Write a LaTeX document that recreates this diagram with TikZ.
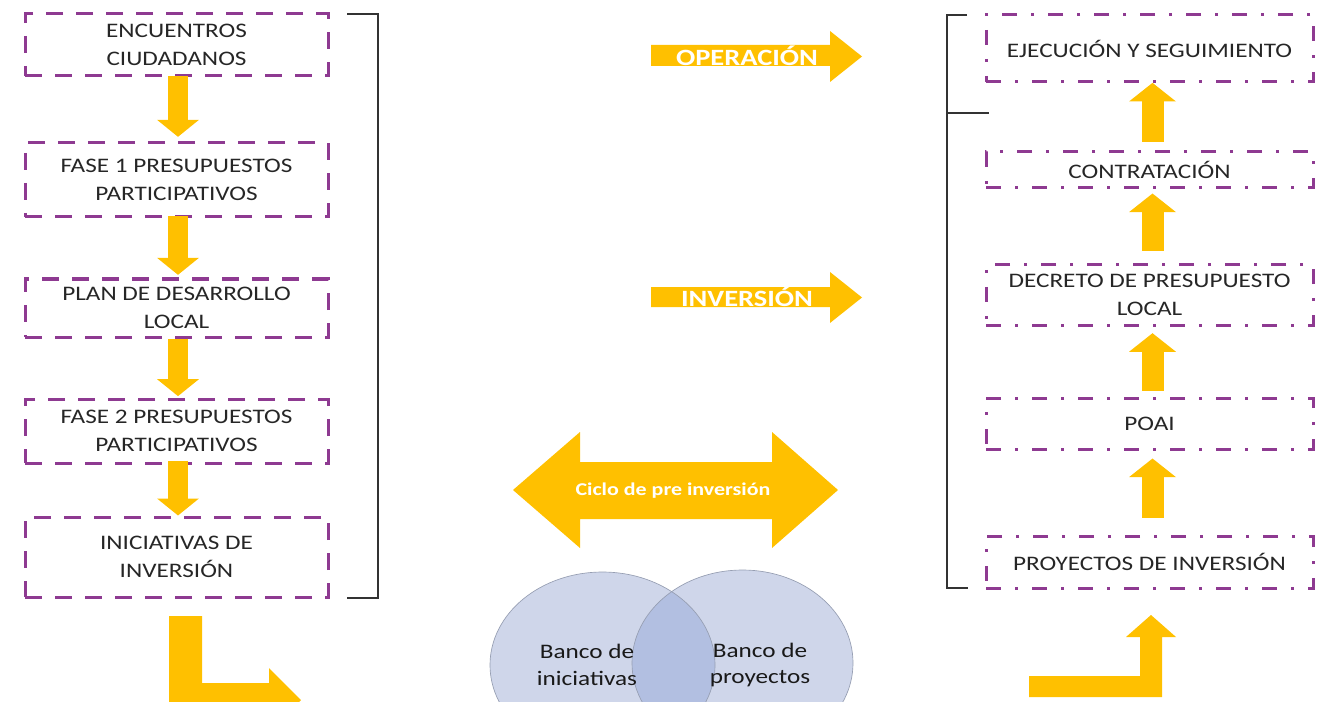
\documentclass[tikz,border=0pt]{standalone}
\usepackage{fontspec}
\setmainfont{Carlito}[FakeStretch=1.22]
\usetikzlibrary{arrows.meta,calc}
\definecolor{pur}{RGB}{142,58,145}
\definecolor{yel}{RGB}{255,192,0}
\definecolor{txt}{RGB}{38,38,38}
\definecolor{venn}{RGB}{207,214,234}
\definecolor{venndark}{RGB}{178,191,225}
\definecolor{vennline}{RGB}{150,158,178}
\begin{document}
\begin{tikzpicture}[x=0.75pt,y=-0.75pt,
  lbox/.style={draw=pur, line width=2.25pt, dash pattern=on 12.75pt off 9.75pt,
    minimum width=227.25pt, inner sep=0pt, align=center, text=txt,
    font=\fontsize{15.5}{20.5}\selectfont},
  rbox/.style={lbox, dash pattern=on 11.25pt off 10.5pt on 2.25pt off 10.5pt,
    minimum width=245.25pt},
  downarr/.style={draw=yel, line width=15pt, -{Triangle[width=30.75pt,length=12.75pt]}},
  uparr/.style={draw=yel, line width=16.5pt, -{Triangle[width=34.5pt,length=14pt]}},
  lab/.style={text=white, font=\bfseries\fontsize{17.5}{20}\selectfont, inner sep=0pt},
  vtext/.style={text=black!90, align=center, inner sep=0pt, font=\fontsize{15.5}{20}\selectfont},
  brk/.style={draw=black!80, line width=1.1pt}
]
\useasboundingbox (0,0) rectangle (1320,702);
\clip (0,0) rectangle (1320,702);

% left boxes
\node[lbox, minimum height=46.5pt] (L1) at (176.5,45) {ENCUENTROS\\CIUDADANOS};
\node[lbox, minimum height=55.5pt] (L2) at (176.5,180) {FASE 1 PRESUPUESTOS\\PARTICIPATIVOS};
\node[lbox, minimum height=43.5pt] (L3) at (176.5,308) {PLAN DE DESARROLLO\\LOCAL};
\node[lbox, minimum height=48pt] (L4) at (176.5,431) {FASE 2 PRESUPUESTOS\\PARTICIPATIVOS};
\node[lbox, minimum height=60pt] (L5) at (176.5,557) {INICIATIVAS DE\\INVERSIÓN};

\draw[downarr, shorten <=-1pt, shorten >=3.5pt] ($(L1.south)+(1.5,0)$) -- ($(L2.north)+(1.5,0)$);
\draw[downarr, shorten <=-2pt, shorten >=2pt] ($(L2.south)+(1.5,0)$) -- ($(L3.north)+(1.5,0)$);
\draw[downarr, shorten <=0pt, shorten >=1pt] ($(L3.south)+(1.5,0)$) -- ($(L4.north)+(1.5,0)$);
\draw[downarr, shorten <=-3pt, shorten >=0pt] ($(L4.south)+(1.5,0)$) -- ($(L5.north)+(1.5,0)$);

% left bracket
\draw[brk] (347,14) -- (378,14) -- (378,598) -- (347,598);

% right boxes
\node[rbox, minimum height=50.25pt] (R1) at (1149.5,48.5) {EJECUCIÓN Y SEGUIMIENTO};
\node[rbox, minimum height=27pt] (R2) at (1149.5,170) {CONTRATACIÓN};
\node[rbox, minimum height=45pt] (R3) at (1149.5,295) {DECRETO DE PRESUPUESTO\\LOCAL};
\node[rbox, minimum height=38.25pt] (R4) at (1149.5,423.5) {POAI};
\node[rbox, minimum height=39pt] (R5) at (1149.5,562) {PROYECTOS DE INVERSIÓN};

\draw[uparr, shorten <=6.5pt, shorten >=-0.5pt] ($(R2.north)+(3,0)$) -- ($(R1.south)+(3,0)$);
\draw[uparr, shorten <=9.5pt, shorten >=3pt] ($(R3.north)+(3,0)$) -- ($(R2.south)+(3,0)$);
\draw[uparr, shorten <=4.5pt, shorten >=5pt] ($(R4.north)+(3,0)$) -- ($(R3.south)+(3,0)$);
\draw[uparr, shorten <=12.5pt, shorten >=6pt] ($(R5.north)+(3,0)$) -- ($(R4.south)+(3,0)$);

% right bracket
\draw[brk] (967,15) -- (947,15) -- (947,588) -- (968,588);
\draw[brk] (947,113) -- (989,113);

% OPERACION / INVERSION arrows
\fill[yel] (651,45) -- (830,45) -- (830,31) -- (862,56.5) -- (830,82) -- (830,66) -- (651,66) -- cycle;
\node[lab] (op) at (747,56) {OPERACIÓN};
\fill[yel] (651,287) -- (830,287) -- (830,272) -- (862,297.5) -- (830,323) -- (830,307) -- (651,307) -- cycle;
\node[lab] (inv) at (747,297) {INVERSIÓN};

% double arrow
\fill[yel] (513,490) -- (580,432) -- (580,462) -- (772,462) -- (772,432) -- (838,490)
  -- (772,548) -- (772,519) -- (580,519) -- (580,548) -- cycle;
\node[text=white, inner sep=0pt, font=\bfseries\fontsize{13.5}{16}\selectfont] (ciclo) at (673,491) {Ciclo de pre inversión};

% venn
\fill[venn] (602.5,665) ellipse [x radius=112.5, y radius=93];
\fill[venn] (742.5,663) ellipse [x radius=110.5, y radius=93];
\begin{scope}
  \clip (602.5,665) ellipse [x radius=112.5, y radius=93];
  \fill[venndark] (742.5,663) ellipse [x radius=110.5, y radius=93];
\end{scope}
\draw[vennline, line width=0.5pt] (602.5,665) ellipse [x radius=112.5, y radius=93];
\draw[vennline, line width=0.5pt] (742.5,663) ellipse [x radius=110.5, y radius=93];
\node[vtext] (bi) at (587,665) {Banco de\\iniciativas};
\node[vtext] (bp) at (760,665) {Banco de\\proyectos};

% bottom L arrows
\fill[yel] (169,616) -- (202,616) -- (202,683) -- (269,683) -- (269,668) -- (301,700)
  -- (269,732) -- (269,716) -- (169,716) -- cycle;
\fill[yel] (1029,676) -- (1140,676) -- (1140,637) -- (1126,637) -- (1151,615) -- (1176,637)
  -- (1162,637) -- (1162,697) -- (1029,697) -- cycle;
\end{tikzpicture}
\end{document}
